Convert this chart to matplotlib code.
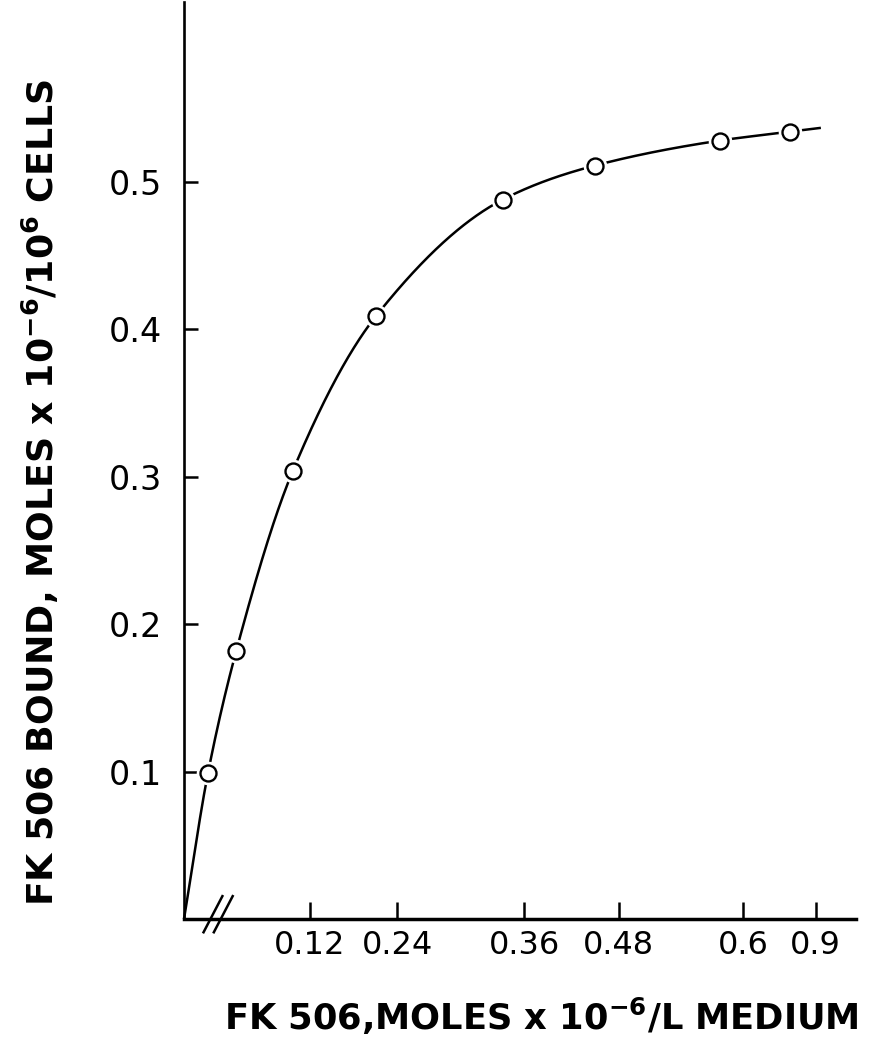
import numpy as np
import matplotlib
matplotlib.use('Agg')
import matplotlib.pyplot as plt

# ---------------- data (x read on the drawn, broken axis) ----------------
fk_medium = [0.001, 0.034, 0.100, 0.197, 0.345, 0.452, 0.598, 0.680]
fk_bound = [0.099, 0.182, 0.304, 0.409, 0.488, 0.511, 0.528, 0.534]
x_tick_labels = ['0.12', '0.24', '0.36', '0.48', '0.6', '0.9']
y_tick_values = [0.1, 0.2, 0.3, 0.4, 0.5]
y_tick_labels = ['0.1', '0.2', '0.3', '0.4', '0.5']

# ---------------- layout ----------------
x_tick_pos = [0.120, 0.222, 0.370, 0.480, 0.625, 0.710]
x_limits = (-0.027, 0.757)
y_limits = (0.0, 0.622)
curve_tail_x = 0.716
break_x = 0.0126

W, H, DPI = 886, 1050, 100
plt.rcParams['mathtext.fontset'] = 'custom'
plt.rcParams['mathtext.rm'] = 'DejaVu Sans:bold'
plt.rcParams['mathtext.it'] = 'DejaVu Sans:bold'
plt.rcParams['mathtext.bf'] = 'DejaVu Sans:bold'
plt.rcParams['mathtext.default'] = 'rm'

fig = plt.figure(figsize=(W / DPI, H / DPI), dpi=DPI)
ax = fig.add_axes([184 / W, (H - 919) / H, (856 - 184) / W, (919 - 2) / H])
ax.set_xlim(*x_limits)
ax.set_ylim(*y_limits)

for s in ('top', 'right'):
    ax.spines[s].set_visible(False)
ax.spines['left'].set_linewidth(1.9)
ax.spines['bottom'].set_linewidth(2.5)


def pchip(x, y, xn):
    x = np.asarray(x, float); y = np.asarray(y, float)
    h = np.diff(x); d = np.diff(y) / h
    m = np.zeros_like(y)
    m[0], m[-1] = d[0], d[-1]
    for k in range(1, len(x) - 1):
        if d[k - 1] * d[k] <= 0:
            m[k] = 0
        else:
            w1 = 2 * h[k] + h[k - 1]
            w2 = h[k] + 2 * h[k - 1]
            m[k] = (w1 + w2) / (w1 / d[k - 1] + w2 / d[k])
    idx = np.clip(np.searchsorted(x, xn) - 1, 0, len(x) - 2)
    t = (xn - x[idx]) / h[idx]
    h00 = 2 * t**3 - 3 * t**2 + 1
    h10 = t**3 - 2 * t**2 + t
    h01 = -2 * t**3 + 3 * t**2
    h11 = t**3 - t**2
    return h00 * y[idx] + h10 * h[idx] * m[idx] + h01 * y[idx + 1] + h11 * h[idx] * m[idx + 1]


# smooth curve: from the axis corner through the points, with a short tail
slope_end = (fk_bound[-1] - fk_bound[-2]) / (fk_medium[-1] - fk_medium[-2])
tail_y = fk_bound[-1] + slope_end * (curve_tail_x - fk_medium[-1])
cx = [x_limits[0]] + fk_medium + [curve_tail_x]
cy = [y_limits[0]] + fk_bound + [tail_y]
xs = np.linspace(cx[0], cx[-1], 800)
ax.plot(xs, pchip(cx, cy, xs), color='black', lw=1.8, zorder=2, clip_on=False,
        solid_capstyle='butt')

# white halo (gap in line) + open circle markers
ax.plot(fk_medium, fk_bound, linestyle='none', marker='o', ms=17, mfc='white',
        mec='white', mew=0, zorder=3, clip_on=False)
ax.plot(fk_medium, fk_bound, linestyle='none', marker='o', ms=11.5, mfc='white',
        mec='black', mew=1.7, zorder=4, clip_on=False)

# ticks
ax.set_xticks(x_tick_pos)
ax.set_xticklabels(x_tick_labels)
ax.set_yticks(y_tick_values)
ax.set_yticklabels(y_tick_labels)
ax.tick_params(axis='x', direction='in', length=12, width=1.8, pad=8,
               labelsize=23)
ax.tick_params(axis='y', direction='in', length=10, width=1.8, pad=16,
               labelsize=24)
for lab in ax.get_xticklabels() + ax.get_yticklabels():
    lab.set_fontfamily('DejaVu Sans')

# axis break marks "//"
for off in (-0.0058, 0.0062):
    ax.plot([break_x + off - 0.0110, break_x + off + 0.0110], [-0.0090, 0.0155],
            color='black', lw=1.8, clip_on=False, zorder=5)

# axis labels (fitted to the reference extents)
xl = fig.text(541 / W, 1 - 1016 / H,
              r'FK 506,MOLES x 10$^{-6}$/L MEDIUM',
              family='DejaVu Sans', weight='bold', fontsize=22,
              ha='center', va='center')
yl = fig.text(40 / W, 1 - 492 / H,
              r'FK 506 BOUND, MOLES x 10$^{-6}$/10$^{6}$ CELLS',
              family='DejaVu Sans', weight='bold', fontsize=22,
              ha='center', va='center', rotation=90)

fig.canvas.draw()
r = fig.canvas.get_renderer()
bx = xl.get_window_extent(r)
xl.set_fontsize(22 * (634 / bx.width))
by = yl.get_window_extent(r)
yl.set_fontsize(22 * (825 / by.height))

fig.savefig('out.png', dpi=DPI, facecolor='white')
